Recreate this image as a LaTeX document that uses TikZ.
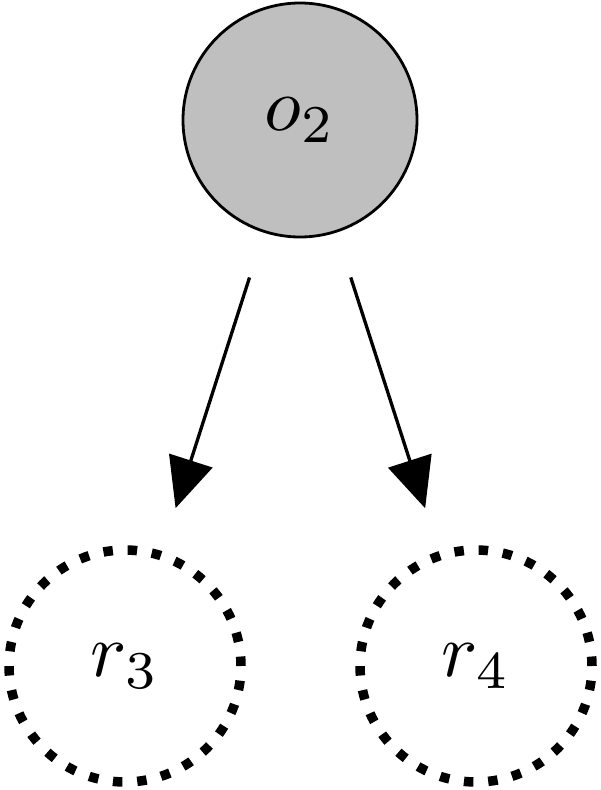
\documentclass[tikz,border=0pt]{standalone}
\usepackage{graphicx}
\usetikzlibrary{arrows.meta}
\newcommand{\bigmath}[1]{\scalebox{7.6}{$#1$}}
\begin{document}
\begin{tikzpicture}[x=1pt,y=-1pt,
  obs/.style={circle,draw=black,line width=2.8pt,fill=black!25,minimum size=234pt,inner sep=0pt},
  rnd/.style={circle,draw=black,line width=9.5pt,dash pattern=on 9.5pt off 14.8pt,minimum size=232pt,inner sep=0pt},
  edge/.style={line width=3.3pt,-{Triangle[length=50pt,width=45pt]},shorten <=47pt,shorten >=45pt}]
\useasboundingbox[fill=white] (0,0) rectangle (600,790);
\node[obs] (o2) at (300,120) {\bigmath{o_2}};
\node[rnd] (r3) at (125,666) {\bigmath{r_3}};
\node[rnd] (r4) at (476,666) {\bigmath{r_4}};
\draw[edge] (o2) -- (r3);
\draw[edge] (o2) -- (r4);
\end{tikzpicture}
\end{document}
